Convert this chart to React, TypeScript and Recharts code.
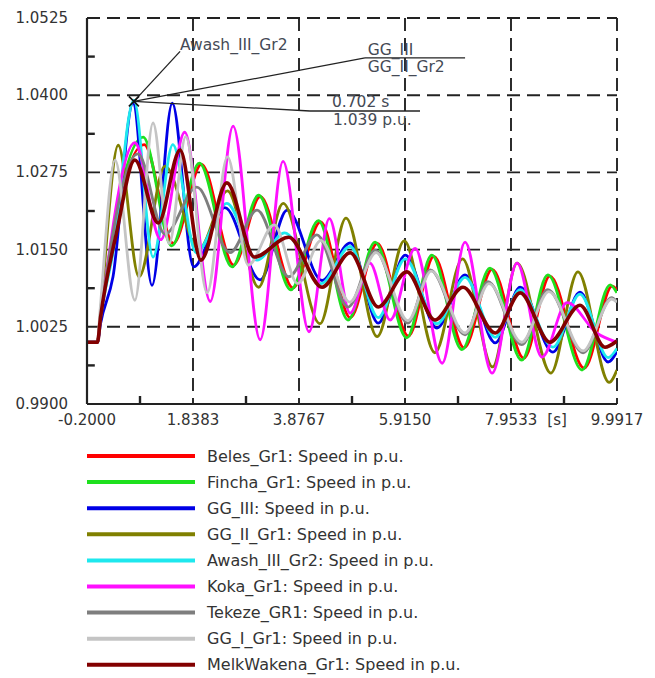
import React from "react";
import { LineChart, Line, XAxis, YAxis, CartesianGrid, ReferenceLine, ReferenceDot } from "recharts";

// ---- axes ----
const xMajorTicks = [-0.2, 1.8383, 3.8767, 5.915, 7.9533, 9.9917];
const xMinorTicks = [0.8192, 2.8575, 4.8958, 6.9342, 8.9725];
const xUnitTick = 8.84;
const xUnitLabel = "[s]";
const yMajorTicks = [0.99, 1.0025, 1.015, 1.0275, 1.04, 1.0525];
const yMinorTicks = [0.99625, 1.00875, 1.02125, 1.03375, 1.04625];
const xMinorTickLen = 0.0013; // in p.u. (short upward mark)
const yMinorTickLen = 0.15; // in s (short rightward mark)

// ---- series: [time s, speed p.u.] read at local extrema ----
const beles: [number, number][] = [
  [-0.2, 1.0], [0, 1.0], [0.06, 1.004], [0.9, 1.032], [1.46, 1.016], [2.0, 1.0288], [2.62, 1.0125],
  [3.13, 1.0236], [3.76, 1.0088], [4.29, 1.0195], [4.86, 1.004], [5.38, 1.016], [5.98, 1.001],
  [6.47, 1.0139], [7.05, 0.9991], [7.59, 1.0118], [8.2, 0.9974], [8.7, 1.0107], [9.36, 0.9958],
  [9.9, 1.0091], [9.99, 1.0085],
];
const fincha: [number, number][] = [
  [-0.2, 1.0], [0, 1.0], [0.06, 1.004], [0.88, 1.0332], [1.43, 1.0156], [1.96, 1.029], [2.59, 1.0122],
  [3.1, 1.0238], [3.72, 1.0085], [4.25, 1.0197], [4.82, 1.0036], [5.34, 1.0162], [5.95, 1.0007],
  [6.43, 1.0141], [7.01, 0.9988], [7.55, 1.012], [8.16, 0.9971], [8.66, 1.0109], [9.32, 0.9955],
  [9.86, 1.0093], [9.99, 1.008],
];
const ggIII: [number, number][] = [
  [-0.2, 1.0], [0, 1.0], [0.06, 1.003], [0.3, 1.0106], [0.685, 1.0387], [1.05, 1.0092], [1.44, 1.0387],
  [1.85, 1.0122], [2.45, 1.0218], [3.13, 1.0101], [3.65, 1.0214], [4.32, 1.01], [4.86, 1.0161],
  [5.4, 1.0031], [5.92, 1.0141], [6.53, 1.0023], [7.07, 1.0109], [7.65, 0.9999], [8.13, 1.0089],
  [8.76, 0.9984], [9.28, 1.0081], [9.82, 0.9968], [9.99, 0.9985],
];
const ggIIGr1: [number, number][] = [
  [-0.2, 1.0], [0, 1.0], [0.05, 1.004], [0.4, 1.0319], [0.8, 1.0106], [1.3, 1.0285], [1.95, 1.015],
  [2.5, 1.0245], [3.1, 1.0089], [3.57, 1.0225], [4.28, 1.003], [4.78, 1.0201], [5.38, 1.0009],
  [5.9, 1.0164], [6.49, 0.9983], [7.02, 1.0135], [7.6, 0.996], [8.07, 1.0128], [8.72, 0.995],
  [9.24, 1.0114], [9.84, 0.9935], [9.99, 0.9955],
];
const awashIIIGr2: [number, number][] = [
  [-0.2, 1.0], [0, 1.0], [0.06, 1.004], [0.3, 1.0145], [0.702, 1.0392], [1.07, 1.0138], [1.45, 1.032],
  [1.9, 1.0145], [2.49, 1.0225], [3.07, 1.0133], [3.6, 1.0177], [4.3, 1.0095], [4.86, 1.0155],
  [5.4, 1.004], [5.92, 1.0135], [6.53, 1.003], [7.07, 1.0105], [7.65, 1.0008], [8.13, 1.0085],
  [8.76, 0.9992], [9.28, 1.0078], [9.82, 0.9975], [9.99, 0.999],
];
const kokaGr1: [number, number][] = [
  [-0.2, 1.0], [0, 1.0], [0.06, 1.004], [0.72, 1.0323], [1.22, 1.0166], [1.68, 1.034], [2.17, 1.0066],
  [2.61, 1.035], [3.13, 1.0004], [3.57, 1.0293], [4.07, 1.0017], [4.46, 1.02], [4.86, 1.0047],
  [5.24, 1.0128], [5.63, 1.0036], [6.11, 1.0152], [6.63, 0.9966], [7.07, 1.0162], [7.59, 0.995],
  [8.07, 1.0128], [8.55, 0.9976], [9.03, 1.0064], [9.6, 1.0015], [9.99, 1.0],
];
const tekezeGR1: [number, number][] = [
  [-0.2, 1.0], [0, 1.0], [0.06, 1.004], [0.78, 1.0305], [1.3, 1.0175], [1.91, 1.0251], [2.55, 1.0145],
  [3.07, 1.0214], [3.68, 1.0106], [4.22, 1.0174], [4.82, 1.0057], [5.34, 1.0149], [5.97, 1.0031],
  [6.4, 1.0117], [7.07, 1.0012], [7.51, 1.0098], [8.16, 0.9996], [8.66, 1.0085], [9.34, 0.9983],
  [9.89, 1.0072], [9.99, 1.0065],
];
const ggIGr1: [number, number][] = [
  [-0.2, 1.0], [0, 1.0], [0.05, 1.005], [0.34, 1.0295], [0.72, 1.0068], [1.07, 1.0355], [1.38, 1.016],
  [1.7, 1.0333], [2.11, 1.008], [2.5, 1.03], [2.9, 1.0125], [3.4, 1.019], [3.85, 1.0095], [4.3, 1.0165],
  [4.85, 1.0065], [5.36, 1.0145], [5.97, 1.0035], [6.42, 1.0115], [7.07, 1.0015], [7.53, 1.0095],
  [8.16, 1.0], [8.68, 1.0082], [9.34, 0.9986], [9.89, 1.007], [9.99, 1.0065],
];
const melkWakenaGr1: [number, number][] = [
  [-0.2, 1.0], [0, 1.0], [0.06, 1.004], [0.38, 1.0182], [0.72, 1.0295], [1.17, 1.0193], [1.59, 1.0311],
  [1.99, 1.0133], [2.49, 1.0258], [3.02, 1.0138], [3.68, 1.017], [4.32, 1.0089], [4.86, 1.0145],
  [5.4, 1.0057], [5.95, 1.0114], [6.49, 1.0036], [7.03, 1.0089], [7.65, 1.0015], [8.13, 1.008],
  [8.7, 1.0], [9.28, 1.006], [9.76, 0.9992], [9.99, 1.0002],
];

const seriesNames = [
  "Beles_Gr1", "Fincha_Gr1", "GG_III", "GG_II_Gr1", "Awash_III_Gr2",
  "Koka_Gr1", "Tekeze_GR1", "GG_I_Gr1", "MelkWakena_Gr1",
];
const seriesData = [beles, fincha, ggIII, ggIIGr1, awashIIIGr2, kokaGr1, tekezeGR1, ggIGr1, melkWakenaGr1];
const seriesColors = [
  "#ff0000", "#1ee01e", "#0000e6", "#808000", "#1ee8ee",
  "#ff10ff", "#7e7e7e", "#c4c4c4", "#820000",
];
const seriesWidths = [2.8, 2.8, 2.8, 2.8, 2.8, 2.8, 2.8, 2.8, 3.6];
const legendSuffix = ": Speed in p.u.";

// ---- annotation ----
const peakTime = 0.702;
const peakValue = 1.039;
const awashLabel = { text: "Awash_III_Gr2", t: 1.59, v: 1.0481 };
const awashLeader = { t: 1.59, v: 1.0471 };
const ggLeader = { t: 5.146, v: 1.04603, tEnd: 7.07 };
const ggLabels = [
  { text: "GG_III", t: 5.2, v: 1.0473 },
  { text: "GG_II_Gr2", t: 5.2, v: 1.0446 },
];
const valLeader = { t: 4.088, v: 1.03744, tEnd: 6.204 };
const valLabels = [
  { text: "0.702 s", t: 4.51, v: 1.0389 },
  { text: "1.039 p.u.", t: 4.53, v: 1.036 },
];

const FONT = "'DejaVu Sans', Verdana, sans-serif";
const near = (a: number, b: number) => Math.abs(a - b) < 1e-6;

function XTick(props: any) {
  const { x, y, payload } = props;
  const val = payload.value;
  const label = near(val, xUnitTick) ? xUnitLabel : Number(val).toFixed(4);
  return (
    <text x={x} y={y + 16} textAnchor="middle" dominantBaseline="central" fontFamily={FONT} fontSize={15} fill="#333">
      {label}
    </text>
  );
}

function YTick(props: any) {
  const { x, y, payload } = props;
  return (
    <text x={x - 19} y={y} textAnchor="end" dominantBaseline="central" fontFamily={FONT} fontSize={15} fill="#333">
      {Number(payload.value).toFixed(4)}
    </text>
  );
}

const textLabel = (text: string) => (p: any) => {
  const vb = p.viewBox || {};
  return (
    <text x={vb.x} y={vb.y} dominantBaseline="central" fontFamily={FONT} fontSize={15.5} fill="#454a55">
      {text}
    </text>
  );
};

const CrossMark = (p: any) => (
  <g stroke="#111" strokeWidth={1.6}>
    <line x1={p.cx - 5} y1={p.cy - 5} x2={p.cx + 5} y2={p.cy + 5} />
    <line x1={p.cx - 5} y1={p.cy + 5} x2={p.cx + 5} y2={p.cy - 5} />
  </g>
);

function LegendBox() {
  return (
    <svg width={640} height={240} style={{ display: "block" }}>
      {seriesNames.map((n, i) => {
        const cy = 18 + i * 26.1;
        return (
          <g key={n}>
            <line x1={79} x2={187} y1={cy} y2={cy} stroke={seriesColors[i]} strokeWidth={4} />
            <text x={199} y={cy} dominantBaseline="central" fontFamily={FONT} fontSize={16} fill="#333">
              {n + legendSuffix}
            </text>
          </g>
        );
      })}
    </svg>
  );
}

export default function App() {
  const xTicks = [...xMajorTicks, xUnitTick].sort((a, b) => a - b);
  const xDomain: [number, number] = [xMajorTicks[0], xMajorTicks[xMajorTicks.length - 1]];
  const yDomain: [number, number] = [yMajorTicks[0], yMajorTicks[yMajorTicks.length - 1]];
  return (
    <div style={{ width: 640, height: 670, background: "#fff" }}>
      <LineChart width={640} height={430} margin={{ top: 10, right: 31, bottom: 0, left: 0 }}>
        <CartesianGrid
          horizontalValues={yMajorTicks}
          verticalValues={xMajorTicks}
          stroke="#222"
          strokeWidth={1.9}
          strokeDasharray="13 7"
        />
        <XAxis
          dataKey="t"
          type="number"
          domain={xDomain}
          allowDataOverflow
          ticks={xTicks}
          interval={0}
          tickSize={0}
          tickMargin={0}
          tickLine={false}
          tick={<XTick />}
          axisLine={{ stroke: "#222", strokeWidth: 2.2 }}
          height={34}
        />
        <YAxis
          dataKey="v"
          type="number"
          domain={yDomain}
          allowDataOverflow
          ticks={yMajorTicks}
          interval={0}
          tickSize={0}
          tickMargin={0}
          tickLine={false}
          tick={<YTick />}
          axisLine={{ stroke: "#222", strokeWidth: 2.2 }}
          width={79}
        />
        {xMinorTicks.map((t) => (
          <ReferenceLine
            key={"xm" + t}
            segment={[{ x: t, y: yDomain[0] }, { x: t, y: yDomain[0] + xMinorTickLen }]}
            stroke="#222" strokeWidth={2.4} ifOverflow="visible"
          />
        ))}
        {yMinorTicks.map((v) => (
          <ReferenceLine
            key={"ym" + v}
            segment={[{ x: xDomain[0], y: v }, { x: xDomain[0] + yMinorTickLen, y: v }]}
            stroke="#222" strokeWidth={2.4} ifOverflow="visible"
          />
        ))}
        {seriesNames.map((n, i) => (
          <Line
            key={n}
            name={n}
            data={seriesData[i].map(([t, v]) => ({ t, v }))}
            dataKey="v"
            type="monotone"
            stroke={seriesColors[i]}
            strokeWidth={seriesWidths[i]}
            dot={false}
            activeDot={false}
            isAnimationActive={false}
          />
        ))}
        <ReferenceLine
          segment={[{ x: peakTime, y: peakValue }, { x: awashLeader.t, y: awashLeader.v }]}
          stroke="#222" strokeWidth={1.3} ifOverflow="visible"
        />
        <ReferenceLine
          segment={[{ x: peakTime, y: peakValue }, { x: ggLeader.t, y: ggLeader.v }]}
          stroke="#222" strokeWidth={1.3} ifOverflow="visible"
        />
        <ReferenceLine
          segment={[{ x: ggLeader.t, y: ggLeader.v }, { x: ggLeader.tEnd, y: ggLeader.v }]}
          stroke="#222" strokeWidth={1.3} ifOverflow="visible"
        />
        <ReferenceLine
          segment={[{ x: peakTime, y: peakValue }, { x: valLeader.t, y: valLeader.v }]}
          stroke="#222" strokeWidth={1.3} ifOverflow="visible"
        />
        <ReferenceLine
          segment={[{ x: valLeader.t, y: valLeader.v }, { x: valLeader.tEnd, y: valLeader.v }]}
          stroke="#222" strokeWidth={1.3} ifOverflow="visible"
        />
        <ReferenceDot x={peakTime} y={peakValue} r={5} shape={CrossMark} ifOverflow="visible" />
        {[awashLabel, ...ggLabels, ...valLabels].map((a) => (
          <ReferenceDot
            key={a.text}
            x={a.t}
            y={a.v}
            r={0}
            fill="none"
            stroke="none"
            ifOverflow="visible"
            label={textLabel(a.text)}
          />
        ))}
      </LineChart>
      <LegendBox />
    </div>
  );
}
